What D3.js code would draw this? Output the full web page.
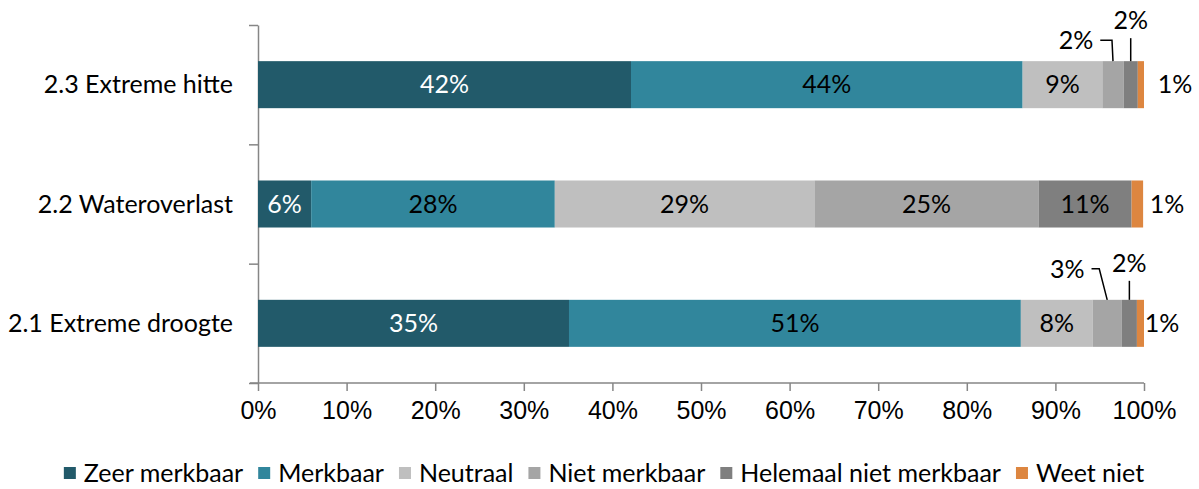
<!DOCTYPE html>
<html>
<head>
<meta charset="utf-8">
<script src="https://cdn.jsdelivr.net/npm/d3@7"></script>
<style>
  body { margin: 0; background: #fff; }
  svg { font-family: Lato, "Open Sans", sans-serif; }
</style>
</head>
<body>
<div id="chart"></div>
<script>
// Categories top to bottom
const categories = ["2.3 Extreme hitte", "2.2 Wateroverlast", "2.1 Extreme droogte"];
const seriesNames = ["Zeer merkbaar", "Merkbaar", "Neutraal", "Niet merkbaar", "Helemaal niet merkbaar", "Weet niet"];
const seriesColors = ["#225a6a", "#31869c", "#bfbfbf", "#a5a5a5", "#7f7f7f", "#dd8640"];

// Percentages per series, same order as categories
const zeerMerkbaar = [42.1, 6.0, 35.1];
const merkbaar = [44.2, 27.5, 51.0];
const neutraal = [9.0, 29.3, 8.1];
const nietMerkbaar = [2.4, 25.3, 3.3];
const helemaalNiet = [1.6, 10.5, 1.7];
const weetNiet = [0.7, 1.3, 0.8];

const xTicks = [0, 10, 20, 30, 40, 50, 60, 70, 80, 90, 100];

const values = [zeerMerkbaar, merkbaar, neutraal, nietMerkbaar, helemaalNiet, weetNiet];

const width = 1199, height = 489;
const fontSize = "25px";
const svg = d3.select("#chart").append("svg")
    .attr("width", width)
    .attr("height", height);

const x = d3.scaleLinear().domain([0, 100]).range([258, 1144]);
const y = d3.scaleBand().domain(categories).range([25, 383])
    .paddingInner(0.606).paddingOuter(0.303);

// Build table: one row per category
const table = categories.map((c, i) => {
    const row = { cat: c };
    seriesNames.forEach((s, j) => row[s] = values[j][i]);
    return row;
});
const stacked = d3.stack().keys(seriesNames)(table);

const axisColor = "#868686";

// bottom axis
const xAxis = svg.append("g")
    .attr("transform", "translate(0,383)")
    .call(d3.axisBottom(x).tickValues(xTicks).tickSize(8).tickSizeOuter(0).tickFormat(d => d + "%"));
xAxis.select(".domain").attr("stroke", axisColor).attr("stroke-width", 1.5).attr("d", "M250,0H1144");
xAxis.selectAll(".tick line").attr("stroke", axisColor).attr("stroke-width", 1.5);
xAxis.selectAll(".tick text").attr("fill", "#000").style("font-size", fontSize)
    .attr("y", 27).attr("dy", "0.35em");

// left axis with ticks at category boundaries
const yEdges = d3.scaleLinear().domain([0, categories.length]).range([25, 383]);
const yAxis = svg.append("g")
    .attr("transform", "translate(258,0)")
    .call(d3.axisLeft(yEdges).ticks(3).tickSize(9).tickSizeOuter(0).tickFormat(""));
yAxis.select(".domain").attr("stroke", axisColor).attr("stroke-width", 1.5);
yAxis.selectAll(".tick line").attr("stroke", axisColor).attr("stroke-width", 1.5);

// category labels
svg.append("g").selectAll("text")
    .data(categories)
    .enter().append("text")
    .attr("x", 233)
    .attr("y", d => y(d) + y.bandwidth() / 2)
    .attr("dy", "0.35em")
    .attr("text-anchor", "end")
    .style("font-size", fontSize)
    .text(d => d);

// bars
const layers = svg.append("g").selectAll("g")
    .data(stacked)
    .enter().append("g")
    .attr("fill", (d, i) => seriesColors[i]);

layers.selectAll("rect")
    .data(d => d)
    .enter().append("rect")
    .attr("x", d => x(d[0]))
    .attr("y", d => y(d.data.cat))
    .attr("width", d => x(d[1]) - x(d[0]))
    .attr("height", y.bandwidth());

// labels inside segments (large enough)
const labelG = svg.append("g").style("font-size", fontSize);
stacked.forEach((layer, i) => {
    layer.forEach(d => {
        const v = d[1] - d[0];
        if (v < 5) return;
        labelG.append("text")
            .attr("x", x((d[0] + d[1]) / 2))
            .attr("y", y(d.data.cat) + y.bandwidth() / 2)
            .attr("dy", "0.35em")
            .attr("text-anchor", "middle")
            .attr("fill", i === 0 ? "#fff" : "#000")
            .text(Math.round(v) + "%");
    });
});

// small segment labels with leader lines
// placement: [labelDx, labelDy, elbowDx] relative to segment centre / bar top
const calloutRows = [0, 2];
const calloutNiet = [[-37, -21, -1], [-40, -31, -8]];
const calloutHelemaal = [[0, -41], [0, -37]];
const calloutWeetDx = [31, 24, 18];

function addText(cx, cy, txt) {
    return labelG.append("text")
        .attr("x", cx).attr("y", cy).attr("dy", "0.35em")
        .attr("text-anchor", "middle").text(txt);
}

calloutRows.forEach((r, k) => {
    // Niet merkbaar: elbow leader
    let d = stacked[3][r];
    let cx = x((d[0] + d[1]) / 2);
    let top = y(d.data.cat);
    let off = calloutNiet[k];
    let ly = top + off[1];
    const t = addText(cx + off[0], ly, Math.round(d[1] - d[0]) + "%");
    const tw = t.node().getComputedTextLength();
    labelG.append("path")
        .attr("d", `M${cx + off[0] + tw / 2 + 7},${ly}H${cx + off[2]}L${cx},${top}`)
        .attr("fill", "none").attr("stroke", "#000").attr("stroke-width", 1.5);

    // Helemaal niet merkbaar: straight leader
    d = stacked[4][r];
    cx = x((d[0] + d[1]) / 2);
    top = y(d.data.cat);
    off = calloutHelemaal[k];
    ly = top + off[1];
    addText(cx + off[0], ly, Math.round(d[1] - d[0]) + "%");
    labelG.append("path")
        .attr("d", `M${cx},${ly + 18}V${top}`)
        .attr("fill", "none").attr("stroke", "#000").attr("stroke-width", 1.5);
});

stacked[5].forEach((d, i) => {
    addText(x(d[1]) + calloutWeetDx[i], y(d.data.cat) + y.bandwidth() / 2,
        Math.round(d[1] - d[0]) + "%");
});

// legend
const legend = svg.append("g").style("font-size", fontSize);
let lx = 0;
seriesNames.forEach((s, i) => {
    const g = legend.append("g").attr("transform", `translate(${lx},0)`);
    g.append("rect").attr("x", 0).attr("y", -6).attr("width", 12).attr("height", 12).attr("fill", seriesColors[i]);
    const t = g.append("text").attr("x", 20).attr("y", 0).attr("dy", "0.35em").text(s);
    lx += 20 + t.node().getComputedTextLength() + 15;
});
const totalW = lx - 15;
legend.attr("transform", `translate(${604 - totalW / 2},473)`);
</script>
</body>
</html>
